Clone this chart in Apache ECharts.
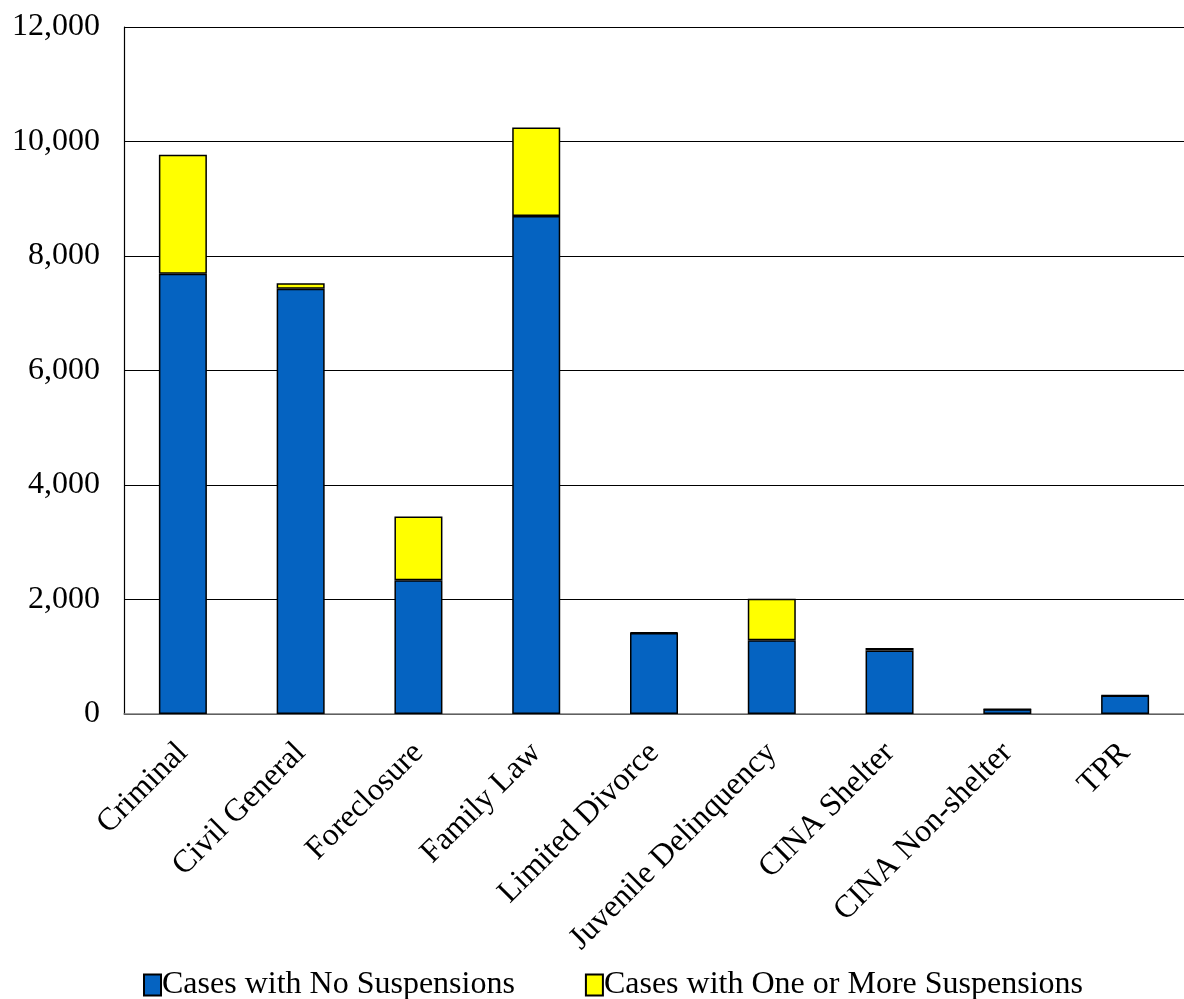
<!DOCTYPE html>
<html><head><meta charset="utf-8">
<script src="https://cdn.jsdelivr.net/npm/echarts@6/dist/echarts.min.js"></script>
<style>html,body{margin:0;padding:0;background:#fff}#c{width:1184px;height:999px}</style>
</head><body><div id="c"></div>
<script>
const categories = ["Criminal","Civil General","Foreclosure","Family Law","Limited Divorce","Juvenile Delinquency","CINA Shelter","CINA Non-shelter","TPR"];
const noSuspensions = [7690, 7430, 2335, 8700, 1415, 1290, 1110, 82, 322];
const oneOrMoreSuspensions = [2080, 95, 1115, 1545, 10, 725, 45, 5, 6];
const yTicks = [0, 2000, 4000, 6000, 8000, 10000, 12000];

const font = "'Liberation Serif', 'Times New Roman', serif";
const chart = echarts.init(document.getElementById('c'));
chart.setOption({
  animation: false,
  backgroundColor: '#fff',
  textStyle: { fontFamily: font },
  grid: { left: 124, top: 27, width: 1070, height: 687, containLabel: false },
  legend: {
    top: 964, left: 138, icon: 'rect',
    itemWidth: 17, itemHeight: 21, itemGap: 70,
    textStyle: { fontFamily: font, fontSize: 32, color: '#000', padding: [0,0,0,-4] },
    data: ['Cases with No Suspensions', 'Cases with One or More Suspensions']
  },
  xAxis: {
    type: 'category', data: categories,
    axisLine: { lineStyle: { color: '#808080', width: 1.5 } },
    axisTick: { show: false },
    axisLabel: { rotate: 45, interval: 0, margin: 34, fontFamily: font, fontSize: 32, color: '#000' }
  },
  yAxis: {
    type: 'value', min: yTicks[0], max: yTicks[yTicks.length-1], interval: 2000,
    axisLine: { show: true, lineStyle: { color: '#000', width: 1.2 } },
    axisTick: { show: false },
    splitLine: { lineStyle: { color: '#000', width: 1.2 } },
    axisLabel: { margin: 24, fontFamily: font, fontSize: 32, color: '#000',
      formatter: v => v.toLocaleString('en-US') }
  },
  series: [
    { name: 'Cases with No Suspensions', type: 'bar', stack: 'a', barWidth: 48, data: noSuspensions,
      itemStyle: { color: '#0563C1', borderColor: '#000', borderWidth: 1.5 } },
    { name: 'Cases with One or More Suspensions', type: 'bar', stack: 'a', barWidth: 48, data: oneOrMoreSuspensions,
      itemStyle: { color: '#FFFF00', borderColor: '#000', borderWidth: 1.5 } }
  ]
});
</script></body></html>
